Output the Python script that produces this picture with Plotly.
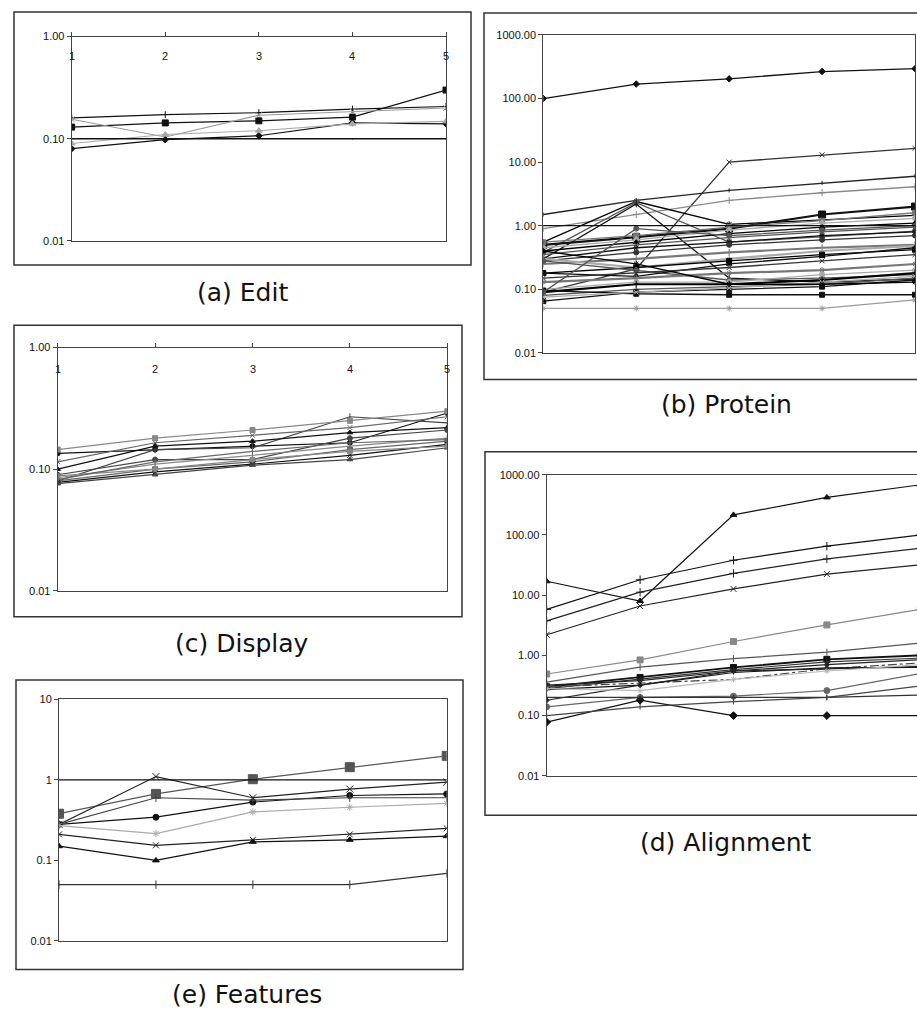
import plotly.graph_objects as go

W, H = 917, 1018

X = [1, 2, 3, 4, 5]
X_LABELS = ["1", "2", "3", "4", "5"]

# ---------------- data ----------------
EDIT = [
    [0.13, 0.143, 0.15, 0.163, 0.30],
    [0.16, 0.172, 0.18, 0.195, 0.207],
    [0.155, 0.104, 0.17, 0.185, 0.20],
    [0.08, 0.098, 0.107, 0.143, 0.14],
    [0.09, 0.11, 0.12, 0.14, 0.148],
    [0.10, 0.10, 0.10, 0.10, 0.10],
]

PROTEIN = [
    [100, 169, 204, 266, 295],
    [0.09, 0.21, 10, 13, 16.5],
    [1.5, 2.5, 3.6, 4.7, 6.0],
    [0.9, 1.5, 2.5, 3.3, 4.1],
    [0.55, 2.4, 1.05, 1.25, 1.45],
    [0.38, 2.3, 0.55, 0.68, 0.82],
    [0.3, 2.2, 0.15, 0.13, 0.145],
    [0.5, 0.66, 0.9, 1.5, 2.0],
    [0.55, 0.7, 0.95, 1.2, 1.6],
    [0.45, 0.6, 0.85, 1.1, 1.3],
    [0.4, 0.55, 0.75, 0.95, 1.1],
    [0.35, 0.5, 0.65, 0.8, 0.95],
    [0.3, 0.45, 0.55, 0.7, 0.8],
    [0.28, 0.38, 0.5, 0.6, 0.7],
    [0.25, 0.3, 0.38, 0.45, 0.5],
    [0.3, 0.22, 0.3, 0.4, 0.48],
    [0.18, 0.22, 0.28, 0.35, 0.42],
    [0.28, 0.2, 0.14, 0.15, 0.17],
    [0.18, 0.16, 0.25, 0.33, 0.45],
    [0.15, 0.18, 0.22, 0.28, 0.35],
    [0.13, 0.15, 0.18, 0.2, 0.25],
    [0.1, 0.13, 0.13, 0.17, 0.2],
    [0.09, 0.12, 0.12, 0.14, 0.18],
    [0.08, 0.1, 0.11, 0.12, 0.15],
    [0.065, 0.09, 0.1, 0.11, 0.14],
    [0.095, 0.085, 0.082, 0.082, 0.082],
    [0.05, 0.05, 0.05, 0.05, 0.068],
    [0.075, 0.09, 0.105, 0.13, 0.16],
    [0.4, 0.25, 0.12, 0.12, 0.13],
    [0.09, 0.9, 0.7, 0.85, 1.0],
]

DISPLAY = [
    [0.135, 0.145, 0.155, 0.165, 0.29],
    [0.08, 0.145, 0.15, 0.27, 0.24],
    [0.145, 0.18, 0.21, 0.25, 0.30],
    [0.115, 0.165, 0.19, 0.22, 0.27],
    [0.10, 0.155, 0.17, 0.20, 0.22],
    [0.09, 0.12, 0.12, 0.18, 0.21],
    [0.085, 0.11, 0.13, 0.155, 0.18],
    [0.08, 0.10, 0.115, 0.145, 0.17],
    [0.078, 0.095, 0.11, 0.13, 0.16],
    [0.076, 0.09, 0.108, 0.12, 0.15],
    [0.088, 0.10, 0.12, 0.14, 0.155],
    [0.082, 0.115, 0.14, 0.165, 0.175],
]

ALIGNMENT = [
    [17, 8, 215, 420, 680],
    [5.8, 18, 38, 65, 100],
    [3.75, 11.2, 23, 40, 60],
    [2.2, 6.6, 12.7, 22.4, 32],
    [0.49, 0.84, 1.7, 3.2, 5.8],
    [0.36, 0.64, 0.88, 1.13, 1.6],
    [0.3, 0.43, 0.63, 0.86, 1.0],
    [0.28, 0.40, 0.58, 0.78, 0.9],
    [0.32, 0.38, 0.55, 0.70, 0.85],
    [0.30, 0.35, 0.40, 0.60, 0.75],
    [0.27, 0.32, 0.52, 0.62, 0.63],
    [0.18, 0.32, 0.55, 0.60, 0.65],
    [0.14, 0.20, 0.21, 0.26, 0.50],
    [0.078, 0.18, 0.10, 0.10, 0.10],
    [0.10, 0.14, 0.17, 0.20, 0.31],
    [0.20, 0.20, 0.20, 0.20, 0.22],
    [0.28, 0.26, 0.40, 0.55, 0.70],
]

FEATURES = [
    [0.38, 0.67, 1.02, 1.44, 1.99],
    [0.28, 1.10, 0.60, 0.77, 0.94],
    [0.28, 0.344, 0.53, 0.64, 0.67],
    [0.28, 0.60, 0.56, 0.60, 0.60],
    [0.27, 0.215, 0.40, 0.457, 0.51],
    [0.21, 0.154, 0.18, 0.21, 0.25],
    [0.15, 0.10, 0.17, 0.18, 0.20],
    [0.05, 0.05, 0.05, 0.05, 0.069],
]

# ---------------- styles ----------------
EDIT_STYLE = [
    ("#111111", "square", 6), ("#111111", "line-ns-open", 5), ("#9a9a9a", "x-thin-open", 6),
    ("#111111", "diamond", 5), ("#aaaaaa", "triangle-up", 6), ("#111111", "line-ns-open", 1),
]
EDIT_WIDTH = [1.2, 1.2, 1.1, 1.2, 1.1, 1.4]

P_COLORS = ["#111111", "#333333", "#777777", "#aaaaaa", "#000000", "#555555"]
P_SYMBOLS = ["square", "diamond", "triangle-up", "x-thin-open", "asterisk-open",
             "circle", "line-ns-open", "cross-thin-open"]
PROTEIN_STYLE = [("#111111", "diamond", 5), ("#333333", "x-thin-open", 5),
                 ("#222222", "line-ns-open", 3), ("#8a8a8a", "cross-thin-open", 5)]
for i in range(4, len(PROTEIN)):
    PROTEIN_STYLE.append((P_COLORS[i % len(P_COLORS)], P_SYMBOLS[i % len(P_SYMBOLS)], 5))
PROTEIN_STYLE[7] = ("#111111", "square", 7)
PROTEIN_STYLE[26] = ("#999999", "asterisk-open", 5)
PROTEIN_STYLE[25] = ("#111111", "square", 5)
PROTEIN_WIDTH = [1.3] * len(PROTEIN)
for k in (7, 14, 15, 20, 22):
    PROTEIN_WIDTH[k] = 2.2

DISPLAY_STYLE = []
for i in range(len(DISPLAY)):
    DISPLAY_STYLE.append((["#111111", "#444444", "#888888", "#666666"][i % 4],
                          ["circle", "line-ns-open", "square", "x-thin-open", "triangle-up"][i % 5], 5))
DISPLAY_WIDTH = [1.2] * len(DISPLAY)

ALIGN_STYLE = [
    ("#111111", "triangle-up", 6), ("#111111", "cross-thin-open", 6), ("#222222", "cross-thin-open", 6),
    ("#222222", "x-thin-open", 6), ("#888888", "square", 6), ("#555555", "line-ns-open", 5),
    ("#111111", "square", 6), ("#333333", "line-ns-open", 4), ("#222222", "circle", 4),
    ("#444444", "line-ns-open", 3), ("#111111", "line-ns-open", 3), ("#222222", "diamond", 4),
    ("#666666", "circle", 6), ("#111111", "diamond", 6), ("#444444", "line-ns-open", 4),
    ("#333333", "line-ns-open", 4), ("#bbbbbb", "asterisk-open", 5),
]
ALIGN_DASH = ["solid"] * len(ALIGNMENT)
ALIGN_DASH[9] = "dashdot"
ALIGN_WIDTH = [1.2] * len(ALIGNMENT)
ALIGN_WIDTH[6] = 1.8

FEAT_STYLE = [
    ("#555555", "square", 9), ("#222222", "x-thin-open", 7), ("#111111", "circle", 6),
    ("#444444", "line-ns-open", 6), ("#aaaaaa", "asterisk-open", 6), ("#222222", "x-thin-open", 6),
    ("#111111", "triangle-up", 6), ("#333333", "line-ns-open", 6),
]
FEAT_WIDTH = [1.2] * len(FEATURES)


def px_x(v):
    return v / W


def px_y(v):
    return 1 - v / H


fig = go.Figure()


def add_series(data, styles, widths, xa, ya, dashes=None):
    for i, vals in enumerate(data):
        c, s, sz = styles[i]
        fig.add_trace(go.Scatter(
            x=X, y=vals, mode="lines+markers",
            line=dict(color=c, width=widths[i], dash=(dashes[i] if dashes else "solid")),
            marker=dict(symbol=s, size=sz, color=c, line=dict(color=c, width=1)),
            xaxis=xa, yaxis=ya, showlegend=False, hoverinfo="skip"))


add_series(EDIT, EDIT_STYLE, EDIT_WIDTH, "x", "y")
add_series(PROTEIN, PROTEIN_STYLE, PROTEIN_WIDTH, "x2", "y2")
add_series(DISPLAY, DISPLAY_STYLE, DISPLAY_WIDTH, "x3", "y3")
add_series(ALIGNMENT, ALIGN_STYLE, ALIGN_WIDTH, "x4", "y4", ALIGN_DASH)
add_series(FEATURES, FEAT_STYLE, FEAT_WIDTH, "x5", "y5")

TICKFONT = dict(family="Liberation Sans, Arial", size=11, color="#111111")
LINEC = "#444444"


def xaxis_cfg(l, r, anchor, top=False, rng=(1, 5), mirror=True):
    d = dict(domain=[px_x(l), px_x(r)], range=list(rng), anchor=anchor,
             showline=True, linecolor=LINEC, linewidth=1, mirror=mirror,
             showgrid=False, zeroline=False, showticklabels=False, fixedrange=True)
    if top:
        d.update(side="top", tickvals=X, ticks="outside", ticklen=4, tickcolor=LINEC)
    else:
        d.update(ticks="")
    return d


def yaxis_cfg(t, b, anchor, rng, vals, texts, mirror=True):
    return dict(domain=[px_y(b), px_y(t)], type="log", range=list(rng), anchor=anchor,
                showline=True, linecolor=LINEC, linewidth=1, mirror=mirror,
                showgrid=False, zeroline=False, tickvals=vals, ticktext=texts,
                ticks="outside", ticklen=4, tickcolor=LINEC, tickfont=TICKFONT, fixedrange=True)


fig.update_layout(
    width=W, height=H, margin=dict(l=0, r=0, t=0, b=0),
    paper_bgcolor="white", plot_bgcolor="white",
    xaxis=xaxis_cfg(71.7, 446, "y", top=True),
    yaxis=yaxis_cfg(31, 237.7, "x", (-2, 0), [0.01, 0.1, 1], ["0.01", "0.10", "1.00"]),
    xaxis2=xaxis_cfg(543.3, 915, "y2"),
    yaxis2=yaxis_cfg(29.3, 351, "x2", (-2, 3), [0.01, 0.1, 1, 10, 100, 1000],
                     ["0.01", "0.10", "1.00", "10.00", "100.00", "1000.00"]),
    xaxis3=xaxis_cfg(57.7, 447.3, "y3", top=True),
    yaxis3=yaxis_cfg(345.7, 591.7, "x3", (-2, 0), [0.01, 0.1, 1], ["0.01", "0.10", "1.00"]),
    xaxis4=xaxis_cfg(546.7, 917, "y4", rng=(1, 4.965)),
    yaxis4=yaxis_cfg(474.3, 779, "x4", (-2, 3), [0.01, 0.1, 1, 10, 100, 1000],
                     ["0.01", "0.10", "1.00", "10.00", "100.00", "1000.00"], mirror=False),
    xaxis5=xaxis_cfg(59, 446.7, "y5"),
    yaxis5=yaxis_cfg(701.7, 946, "x5", (-2, 1), [0.01, 0.1, 1, 10], ["0.01", "0.1", "1", "10"]),
)

# category labels under the top axis of (a) and (c)
for xa, ya, shift in (("x", "y", -19), ("x3", "y3", -21)):
    for xv, lab in zip(X, X_LABELS):
        fig.add_annotation(text=lab, x=xv, xref=xa, y=1, yref=ya + " domain",
                           yshift=shift, xanchor="center", yanchor="middle",
                           showarrow=False, font=TICKFONT)

# category axes crossing at 1 in (b) and (e)
for xa, ya in (("x2", "y2"), ("x5", "y5")):
    fig.add_shape(type="line", xref=xa + " domain", yref=ya, x0=0, x1=1, y0=1, y1=1,
                  line=dict(color="#111111", width=1.2))

# outer chart frames
FRAMES = [(14, 6, 471, 262), (484, 7, 930, 378), (14, 323, 462, 618),
          (485, 451, 930, 819), (16, 682, 463, 975)]
for l, t, r, b in FRAMES:
    fig.add_shape(type="rect", xref="paper", yref="paper",
                  x0=px_x(l), x1=px_x(r), y0=px_y(b), y1=px_y(t),
                  line=dict(color="#333333", width=1.5), layer="below")

CAPTIONS = [("(a) Edit", 242, 290), ("(b) Protein", 726, 403), ("(c) Display", 242, 645),
            ("(d) Alignment", 726, 846), ("(e) Features", 247, 1000)]
for txt, cx, cy in CAPTIONS:
    fig.add_annotation(text=txt, xref="paper", yref="paper", x=px_x(cx), y=px_y(cy),
                       xanchor="center", yanchor="middle", showarrow=False,
                       font=dict(family="DejaVu Sans", size=25, color="#111111"))

fig.write_html("out.html", config={"displayModeBar": False},
               post_script="document.body.style.margin='0px';")
